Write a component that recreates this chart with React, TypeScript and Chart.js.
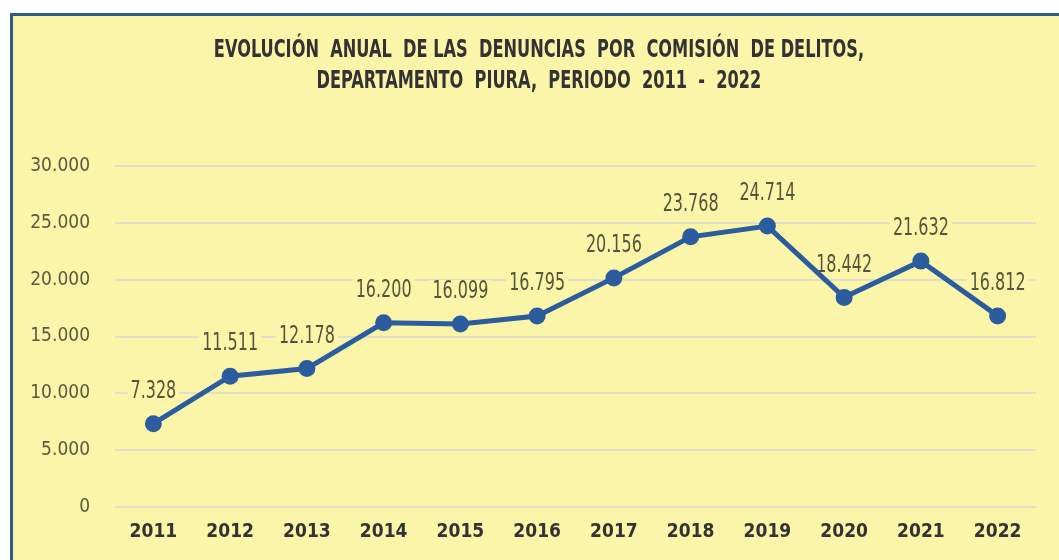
import React, { useEffect, useRef } from "react";
import { Chart, registerables } from "chart.js";

Chart.register(...registerables);

const years = ["2011", "2012", "2013", "2014", "2015", "2016", "2017", "2018", "2019", "2020", "2021", "2022"];
const denuncias = [7328, 11511, 12178, 16200, 16099, 16795, 20156, 23768, 24714, 18442, 21632, 16812];
const titleLines = [
  "EVOLUCIÓN  ANUAL  DE LAS  DENUNCIAS  POR  COMISIÓN  DE DELITOS,",
  "DEPARTAMENTO  PIURA,  PERIODO  2011  -  2022",
];

const FONT = "'Liberation Sans Narrow', 'DejaVu Sans Condensed', 'Liberation Sans', sans-serif";
const YELLOW = "#FAF5A8";
const BLUE = "#2B5C9E";

const fmt = (v: number) => {
  const s = String(Math.round(v));
  return s.replace(/\B(?=(\d{3})+(?!\d))/g, ".");
};

const drawNarrow = (ctx: any, text: string, x: number, y: number, sx: number) => {
  ctx.save();
  ctx.translate(x, y);
  ctx.scale(sx, 1);
  ctx.fillText(text, 0, 0);
  ctx.restore();
};

const labelPlugin = {
  id: "labelsAndTitle",
  beforeDatasetsDraw(chart: any) {
    const ctx = chart.ctx;
    const meta = chart.getDatasetMeta(0);
    ctx.save();
    ctx.font = `24px ${FONT}`;
    ctx.textAlign = "center";
    ctx.textBaseline = "middle";
    const sx = 0.74;
    meta.data.forEach((pt: any, i: number) => {
      const text = fmt(denuncias[i]);
      const w = ctx.measureText(text).width * sx;
      const x = pt.x;
      const y = pt.y - 32;
      ctx.fillStyle = YELLOW;
      ctx.fillRect(x - w / 2 - 3, y - 12, w + 6, 24);
      ctx.fillStyle = "#55543C";
      drawNarrow(ctx, text, x, y, sx);
    });
    ctx.restore();
  },
  afterDraw(chart: any) {
    const ctx = chart.ctx;
    ctx.save();
    ctx.font = `bold 25px ${FONT}`;
    ctx.fillStyle = "#333333";
    ctx.textAlign = "center";
    ctx.textBaseline = "middle";
    drawNarrow(ctx, titleLines[0], 539, 50, 0.72);
    drawNarrow(ctx, titleLines[1], 539, 81, 0.72);
    ctx.restore();
  },
};

export default function App() {
  const ref = useRef<HTMLCanvasElement>(null);
  useEffect(() => {
    if (!ref.current) return;
    const chart = new Chart(ref.current, {
      type: "line",
      data: {
        labels: years,
        datasets: [
          {
            data: denuncias,
            borderColor: BLUE,
            backgroundColor: BLUE,
            borderWidth: 5,
            pointRadius: 6,
            pointHoverRadius: 6,
            pointBackgroundColor: BLUE,
            pointBorderColor: BLUE,
            tension: 0,
          },
        ],
      },
      options: {
        responsive: false,
        animation: false,
        layout: { padding: { top: 166, right: 23, bottom: 0, left: 0 } },
        plugins: { legend: { display: false }, tooltip: { enabled: false }, title: { display: false } },
        scales: {
          x: {
            offset: true,
            grid: { display: false, drawTicks: false },
            border: { display: false },
            ticks: {
              padding: 14,
              color: "#333333",
              font: { family: FONT, size: 19, weight: "bold" },
            },
            afterFit: (s: any) => {
              s.height = 53;
            },
          },
          y: {
            min: 0,
            max: 30000,
            grid: { color: "rgba(222,220,205,0.9)", lineWidth: 2, drawTicks: false },
            border: { display: false },
            ticks: {
              stepSize: 5000,
              padding: 25,
              color: "#5B5A40",
              font: { family: FONT, size: 19 },
              callback: (v: any) => fmt(Number(v)),
            },
            afterFit: (s: any) => {
              s.width = 115;
            },
          },
        },
      },
      plugins: [labelPlugin],
    });
    return () => chart.destroy();
  }, []);

  return (
    <div style={{ position: "fixed", left: 0, top: 0, width: 1059, height: 560, background: "#ffffff", overflow: "hidden" }}>
      <div
        style={{
          position: "absolute",
          left: 10,
          top: 13,
          width: 1060,
          height: 560,
          background: YELLOW,
          border: `3px solid #2E5A8C`,
        }}
      />
      <canvas ref={ref} width={1059} height={560} style={{ position: "absolute", left: 0, top: 0 }} />
    </div>
  );
}
